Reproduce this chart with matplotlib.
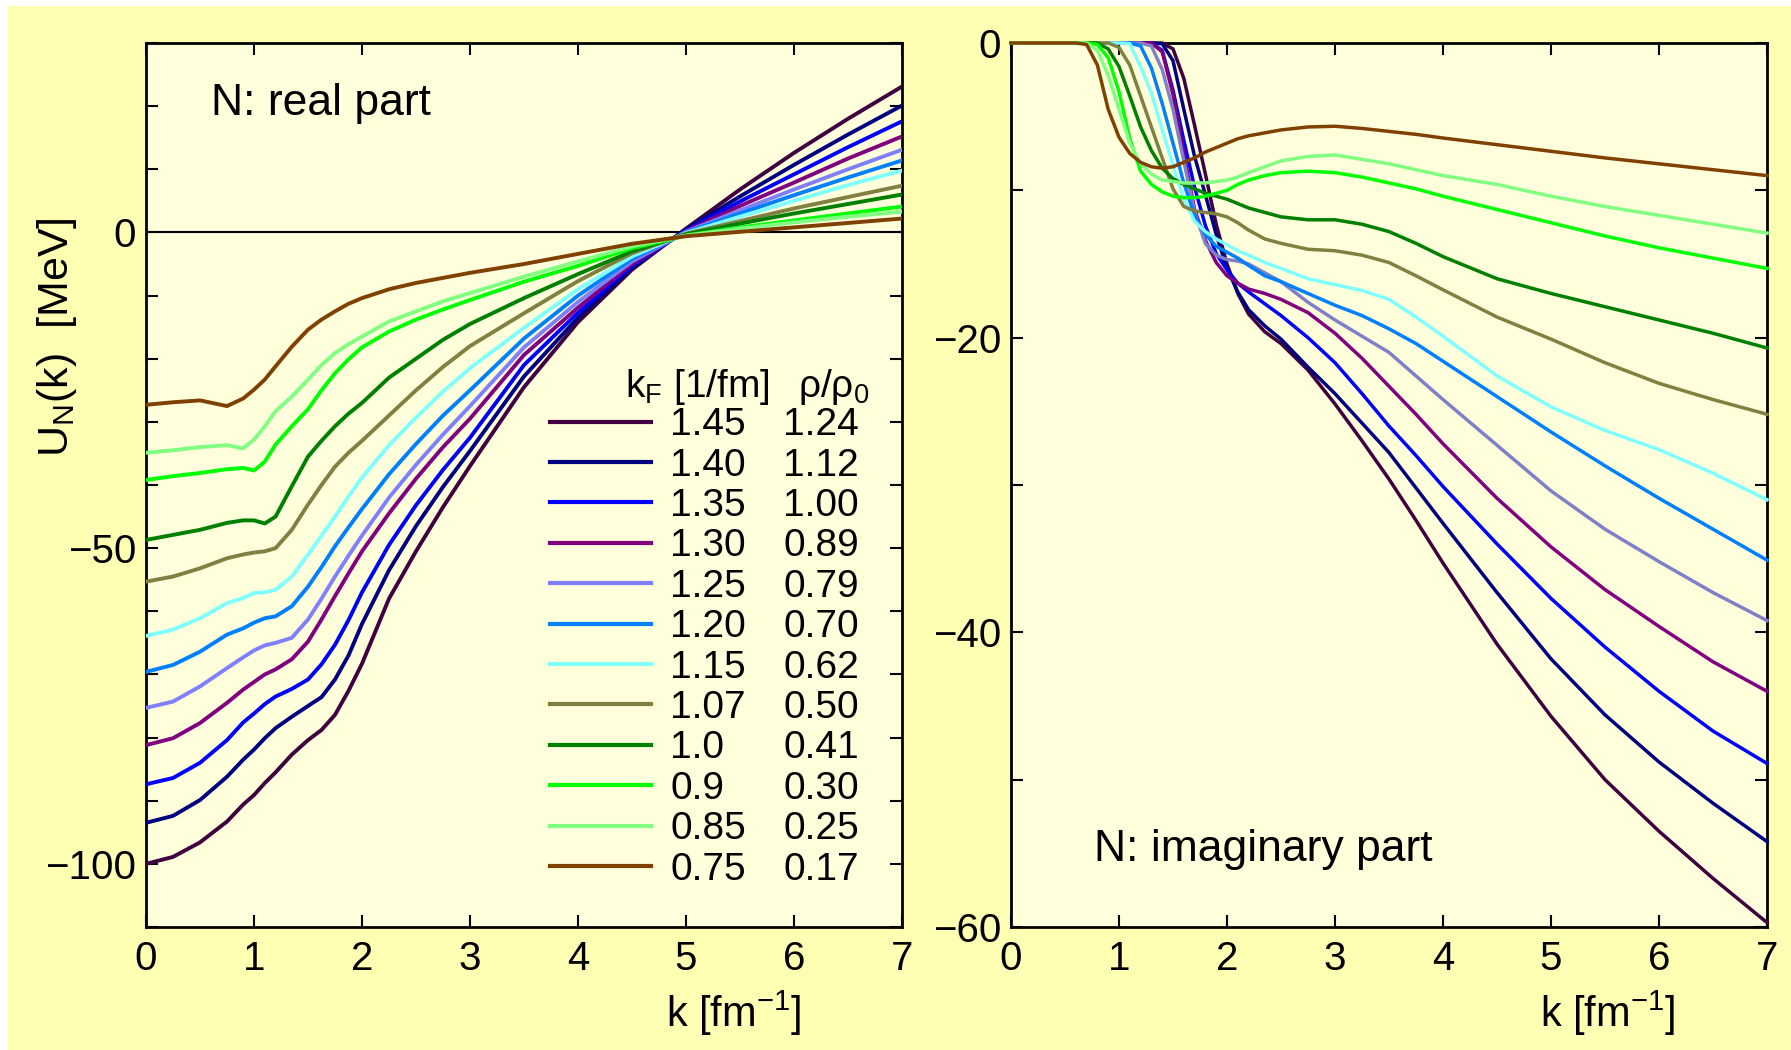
import matplotlib
matplotlib.use("Agg")
import matplotlib.pyplot as plt
from matplotlib.lines import Line2D
from matplotlib.patches import Rectangle
from matplotlib.ticker import MultipleLocator

plt.rcParams['font.family'] = ['Liberation Sans', 'DejaVu Sans']
plt.rcParams['mathtext.fontset'] = 'custom'
plt.rcParams['mathtext.rm'] = 'Liberation Sans'
plt.rcParams['mathtext.it'] = 'Liberation Sans:italic'
plt.rcParams['mathtext.default'] = 'regular'

FIG_BG = '#ffffb4'
AX_BG = '#ffffdc'

KF_LABELS = ['1.45', '1.40', '1.35', '1.30', '1.25', '1.20', '1.15', '1.07', '1.0', '0.9', '0.85', '0.75']
RHO_LABELS = ['1.24', '1.12', '1.00', '0.89', '0.79', '0.70', '0.62', '0.50', '0.41', '0.30', '0.25', '0.17']
COLORS = ['#400040', '#000080', '#0000ff', '#800080', '#8080ff', '#0080ff',
          '#80ffff', '#808040', '#008000', '#00ff00', '#80ff80', '#804000']
IM_COLORS = COLORS[:4] + ['#8080c8'] + COLORS[5:]

# real part, U_N(k) [MeV]
K_RE = [0.0, 0.25, 0.5, 0.75, 0.9, 1.0, 1.1, 1.2, 1.35, 1.5, 1.625, 1.75, 1.875, 2.0,
        2.25, 2.5, 2.75, 3.0, 3.5, 4.0, 4.5, 5.0, 5.5, 6.0, 6.5, 7.0]
RE_145 = [-100.0, -98.9, -96.6, -93.3, -90.6, -89.1, -87.2, -85.5, -82.7, -80.4, -78.8, -76.4, -72.6, -68.3,
          -58.0, -50.5, -43.5, -37.0, -24.5, -14.2, -5.9, 0.6, 6.8, 12.6, 18.0, 23.1]
RE_140 = [-93.5, -92.4, -89.9, -86.2, -83.5, -81.9, -80.1, -78.5, -76.7, -75.0, -73.6, -70.8, -67.0, -62.0,
          -53.5, -46.5, -40.3, -34.6, -22.8, -13.5, -5.6, 0.5, 5.7, 10.7, 15.5, 20.1]
RE_135 = [-87.4, -86.4, -84.0, -80.4, -77.6, -76.2, -74.7, -73.5, -72.3, -70.8, -68.4, -65.3, -61.4, -57.0,
          -49.5, -43.2, -37.6, -32.5, -21.0, -12.7, -5.3, 0.3, 4.9, 9.2, 13.5, 17.6]
RE_130 = [-81.2, -80.1, -77.7, -74.5, -72.4, -71.2, -70.0, -69.2, -67.6, -64.8, -61.3, -57.6, -54.0, -50.5,
          -44.5, -39.0, -34.0, -29.5, -19.4, -11.9, -5.0, 0.2, 4.2, 7.9, 11.7, 15.2]
RE_125 = [-75.3, -74.3, -71.9, -69.0, -67.3, -66.2, -65.4, -65.0, -64.2, -61.3, -58.0, -54.5, -51.2, -48.0,
          -42.0, -36.8, -32.0, -27.5, -18.2, -11.0, -4.6, 0.1, 3.5, 6.8, 10.0, 13.1]
RE_120 = [-69.6, -68.5, -66.4, -63.7, -62.7, -61.8, -61.1, -60.8, -59.2, -56.1, -53.0, -49.7, -46.7, -43.8,
          -38.3, -33.5, -29.0, -25.0, -16.8, -10.0, -4.2, 0.0, 3.0, 5.9, 8.7, 11.4]
RE_115 = [-63.9, -62.9, -61.1, -58.7, -57.9, -57.1, -57.0, -56.6, -54.5, -51.0, -48.0, -45.0, -41.8, -38.8,
          -33.7, -29.3, -25.2, -21.5, -15.1, -9.0, -3.8, -0.1, 2.5, 5.0, 7.5, 9.8]
RE_107 = [-55.3, -54.5, -53.2, -51.6, -51.0, -50.7, -50.5, -50.0, -47.1, -43.1, -40.0, -37.1, -34.9, -33.0,
          -29.0, -25.0, -21.3, -18.0, -12.8, -7.7, -3.3, -0.2, 1.8, 3.8, 5.6, 7.4]
RE_100 = [-48.7, -47.9, -47.1, -46.0, -45.6, -45.6, -46.1, -45.0, -40.2, -35.5, -33.0, -30.7, -28.7, -27.0,
          -23.0, -20.0, -17.0, -14.5, -10.4, -6.6, -3.0, -0.3, 1.4, 3.0, 4.5, 6.0]
RE_090 = [-39.2, -38.6, -38.1, -37.5, -37.3, -37.7, -36.3, -33.6, -30.7, -28.0, -25.0, -22.3, -20.1, -18.2,
          -15.7, -13.8, -12.2, -10.7, -7.8, -5.3, -2.5, -0.5, 0.8, 1.9, 3.0, 4.1]
RE_085 = [-34.9, -34.5, -34.0, -33.7, -34.2, -32.8, -30.7, -28.3, -26.0, -23.3, -21.0, -19.1, -17.7, -16.5,
          -14.1, -12.5, -10.9, -9.6, -7.0, -4.6, -2.2, -0.5, 0.6, 1.6, 2.5, 3.3]
RE_075 = [-27.3, -26.9, -26.6, -27.5, -26.3, -24.9, -23.3, -21.2, -18.1, -15.4, -13.8, -12.5, -11.3, -10.4,
          -9.0, -8.0, -7.2, -6.4, -5.0, -3.4, -1.8, -0.6, 0.1, 0.8, 1.5, 2.2]
RE_CURVES = [RE_145, RE_140, RE_135, RE_130, RE_125, RE_120,
             RE_115, RE_107, RE_100, RE_090, RE_085, RE_075]

# imaginary part
K_IM = [0.0, 0.6, 0.7, 0.8, 0.9, 1.0, 1.1, 1.2, 1.3, 1.4, 1.5, 1.6, 1.7, 1.8, 1.9,
        2.0, 2.1, 2.2, 2.35, 2.5, 2.75, 3.0, 3.25, 3.5, 3.75, 4.0, 4.5, 5.0, 5.5, 6.0, 6.5, 7.0]
IM_145 = [0, 0, 0, 0, 0, 0, 0, 0, 0, 0, -0.4, -2.4, -5.6, -8.9, -12.3,
          -15.0, -17.0, -18.4, -19.6, -20.4, -22.2, -24.5, -27.0, -29.6, -32.4, -35.3,
          -40.8, -45.7, -50.0, -53.5, -56.7, -59.7]
IM_140 = [0, 0, 0, 0, 0, 0, 0, 0, 0, -0.05, -1.2, -4.5, -7.7, -10.3, -13.0,
          -15.3, -16.9, -18.1, -19.2, -20.1, -22.0, -23.8, -25.8, -27.8, -30.2, -32.6,
          -37.3, -41.8, -45.6, -48.8, -51.6, -54.2]
IM_135 = [0, 0, 0, 0, 0, 0, 0, 0, 0, -0.5, -3.2, -6.6, -9.8, -12.4, -14.3,
          -15.4, -16.3, -16.9, -17.7, -18.5, -20.0, -21.7, -23.8, -26.0, -28.0, -30.1,
          -34.0, -37.7, -41.0, -44.0, -46.7, -48.9]
IM_130 = [0, 0, 0, 0, 0, 0, 0, 0, 0, -0.6, -3.5, -7.5, -11.3, -13.4, -14.9,
          -15.8, -16.3, -16.7, -17.0, -17.4, -18.3, -19.7, -21.4, -23.3, -25.2, -27.2,
          -30.9, -34.2, -37.1, -39.6, -42.0, -44.0]
IM_125 = [0, 0, 0, 0, 0, 0, 0, 0, -0.2, -1.8, -4.5, -8.0, -11.5, -13.6, -14.4,
          -14.7, -14.8, -15.0, -15.6, -16.2, -17.6, -18.8, -19.9, -21.0, -22.6, -24.2,
          -27.3, -30.4, -33.0, -35.2, -37.3, -39.2]
IM_120 = [0, 0, 0, 0, 0, 0, 0, -0.2, -1.7, -4.1, -6.8, -9.5, -11.7, -13.0, -13.8,
          -14.2, -14.6, -15.1, -15.8, -16.2, -17.0, -17.8, -18.5, -19.4, -20.4, -21.6,
          -24.0, -26.4, -28.7, -30.9, -33.0, -35.1]
IM_115 = [0, 0, 0, 0, 0, 0, -0.05, -1.6, -3.4, -5.9, -8.3, -10.6, -12.1, -12.8, -13.3,
          -13.7, -14.1, -14.4, -14.9, -15.3, -16.0, -16.4, -16.8, -17.4, -18.6, -19.9,
          -22.6, -24.7, -26.3, -27.6, -29.2, -31.0]
IM_107 = [0, 0, 0, 0, 0, -0.3, -1.5, -3.6, -5.7, -7.8, -9.9, -11.1, -11.4, -11.5, -11.6,
          -11.8, -12.2, -12.7, -13.3, -13.6, -14.0, -14.1, -14.4, -14.9, -15.8, -16.75,
          -18.6, -20.1, -21.7, -23.1, -24.2, -25.2]
IM_100 = [0, 0, 0, 0, -0.4, -1.6, -3.6, -5.7, -7.3, -8.5, -9.2, -9.6, -9.9, -10.2, -10.4,
          -10.6, -10.9, -11.2, -11.5, -11.8, -12.0, -12.0, -12.3, -12.8, -13.6, -14.5,
          -16.0, -17.0, -17.9, -18.8, -19.7, -20.7]
IM_090 = [0, 0, 0, -0.1, -1.0, -3.3, -6.5, -8.7, -9.6, -10.1, -10.4, -10.5, -10.5, -10.4, -10.2,
          -10.0, -9.6, -9.3, -9.0, -8.8, -8.7, -8.8, -9.1, -9.5, -9.9, -10.4,
          -11.3, -12.2, -13.1, -13.9, -14.6, -15.3]
IM_085 = [0, 0, 0, -0.5, -2.2, -4.5, -6.8, -8.2, -8.9, -9.3, -9.4, -9.5, -9.5, -9.5, -9.4,
          -9.3, -9.1, -8.8, -8.4, -8.0, -7.7, -7.6, -7.9, -8.2, -8.6, -9.0,
          -9.6, -10.4, -11.1, -11.7, -12.3, -12.9]
IM_075 = [0, 0, -0.1, -1.5, -4.5, -6.4, -7.5, -8.1, -8.4, -8.5, -8.4, -8.1, -7.8, -7.4, -7.1,
          -6.8, -6.5, -6.3, -6.1, -5.9, -5.7, -5.65, -5.8, -6.0, -6.2, -6.45,
          -6.9, -7.35, -7.8, -8.2, -8.6, -9.0]
IM_CURVES = [IM_145, IM_140, IM_135, IM_130, IM_125, IM_120,
             IM_115, IM_107, IM_100, IM_090, IM_085, IM_075]


def style_axes(ax, ymin, ymax, major, minor):
    ax.set_facecolor(AX_BG)
    ax.set_xlim(0, 7)
    ax.set_ylim(ymin, ymax)
    ax.xaxis.set_major_locator(MultipleLocator(1))
    ax.yaxis.set_major_locator(MultipleLocator(major))
    ax.yaxis.set_minor_locator(MultipleLocator(minor))
    ax.tick_params(which='both', direction='in', top=True, right=True,
                   length=8.5, width=1.5, labelsize=29)
    ax.tick_params(axis='x', pad=9)
    ax.tick_params(axis='y', pad=7)
    for s in ax.spines.values():
        s.set_linewidth(2)


fig = plt.figure(figsize=(17.91, 10.5), dpi=100, facecolor='white')
fig.patches.append(Rectangle((8 / 1791, 0), 1, 1 - 6 / 1050, transform=fig.transFigure,
                             facecolor=FIG_BG, edgecolor='none', zorder=-10))

ax_re = fig.add_axes([146 / 1791, 123 / 1050, 756 / 1791, 884 / 1050])
ax_im = fig.add_axes([1011 / 1791, 123 / 1050, 756 / 1791, 884 / 1050])

style_axes(ax_re, -110, 30, 50, 10)
style_axes(ax_im, -60, 0, 20, 10)

ax_re.axhline(0, color='black', lw=1.5, zorder=2)
for vals, c in zip(RE_CURVES, COLORS):
    ax_re.plot(K_RE, vals, color=c, lw=2.8, zorder=3)
for vals, c in zip(IM_CURVES, IM_COLORS):
    ax_im.plot(K_IM, vals, color=c, lw=2.5, zorder=3, clip_on=False)

ax_re.text(0.086, 0.932, 'N: real part', transform=ax_re.transAxes,
           fontsize=32, ha='left', va='center')
ax_im.text(0.11, 0.088, 'N: imaginary part', transform=ax_im.transAxes,
           fontsize=32, ha='left', va='center')

for ax, xc in ((ax_re, 0.778), (ax_im, 0.789)):
    ax.text(xc, -0.098, 'k [fm$^{-1}$]', transform=ax.transAxes,
            fontsize=30, ha='center', va='center')
ax_re.text(-0.118, 0.667, 'U$_N$(k)  [MeV]', transform=ax_re.transAxes,
           fontsize=31, rotation=90, ha='center', va='center')

handles = [Line2D([], [], color=c, lw=3) for c in COLORS]
leg = ax_re.legend(handles, KF_LABELS, loc='upper left', bbox_to_anchor=(0.534, 0.588),
                   frameon=False, borderpad=0, borderaxespad=0, fontsize=28,
                   handlelength=2.6, handletextpad=0.5, labelspacing=0.113)

fig.canvas.draw()
renderer = fig.canvas.get_renderer()
inv = ax_re.transAxes.inverted()
for t, rho in zip(leg.get_texts(), RHO_LABELS):
    bb = t.get_window_extent(renderer)
    _, ya = inv.transform((0.5 * (bb.x0 + bb.x1), 0.5 * (bb.y0 + bb.y1)))
    ax_re.text(0.843, ya, rho, transform=ax_re.transAxes, fontsize=28,
               ha='left', va='center')

ax_re.text(0.634, 0.5995, 'k$_F$ [1/fm]', transform=ax_re.transAxes,
           fontsize=28, ha='left', va='baseline')
ax_re.text(0.862, 0.5995, 'ρ/ρ$_0$', transform=ax_re.transAxes,
           fontsize=28, ha='left', va='baseline')

fig.savefig('out.png', dpi=100, facecolor=fig.get_facecolor())
